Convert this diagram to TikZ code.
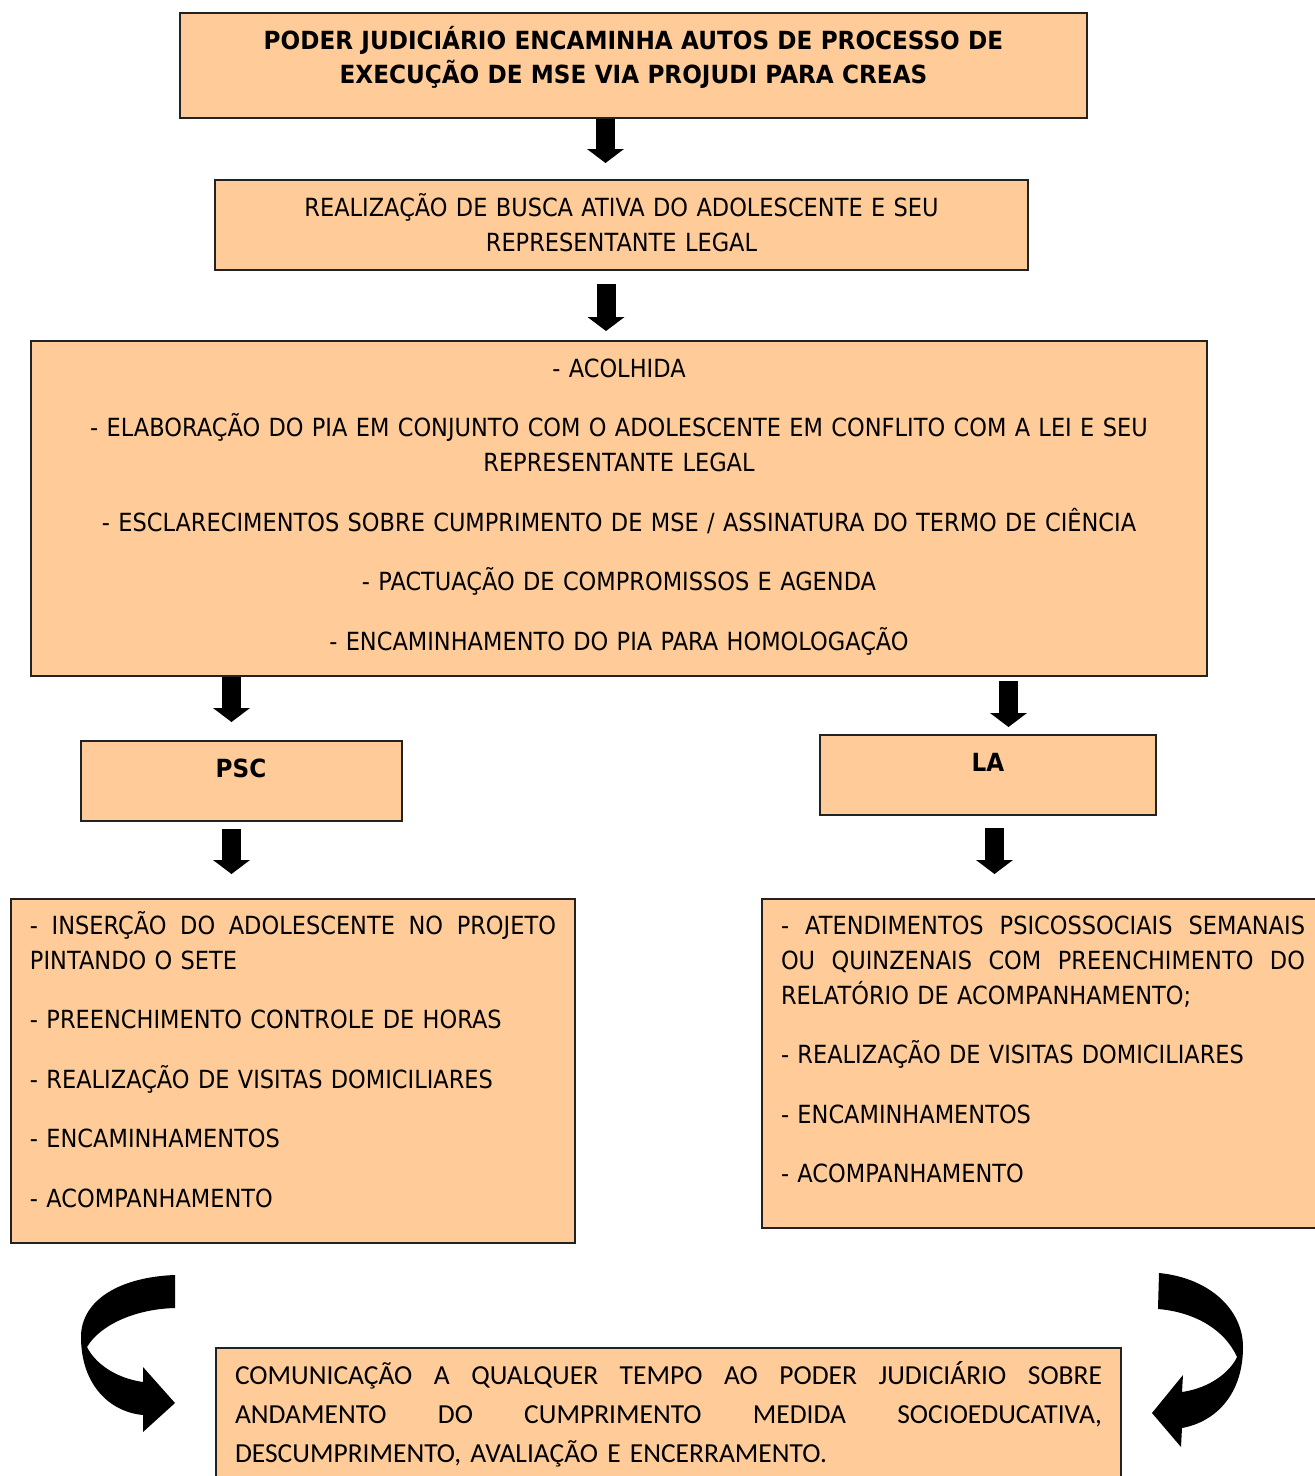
\documentclass[tikz,border=0pt]{standalone}
\usepackage{fontspec}
\usetikzlibrary{arrows.meta}
\newfontfamily\tahfont{DejaVu Sans}[FakeStretch=0.9]
\newfontfamily\tahbfont{DejaVu Sans}[FakeStretch=0.925]
\newfontfamily\calfont{Carlito}
\definecolor{peach}{HTML}{FFCC99}
\definecolor{edge}{HTML}{222222}
\newcommand\jline[2]{\makebox[#1][s]{\spaceskip=\fontdimen2\font plus 1fil\relax #2}}
\begin{document}
\begin{tikzpicture}[x=1pt,y=-1pt,
  box/.style={draw=edge,fill=peach,line width=1.6pt,inner sep=0pt},
  txt/.style={inner sep=0pt,anchor=north,font={\tahfont\fontsize{25}{35}\selectfont}},
  btxt/.style={inner sep=0pt,font={\tahbfont\bfseries\fontsize{25}{34}\selectfont}},
  fat/.style={line width=19pt,-{Triangle[width=37pt,length=14pt,line width=0pt]}},
  curvy/.style={fill=black}]
\path[use as bounding box] (0,0) rectangle (1315,1476);
\clip (0,0) rectangle (1315,1476);

% boxes
\node[box,minimum width=907,minimum height=105] (b1) at (633.5,65.5) {};
\node[box,minimum width=813,minimum height=90] (b2) at (621.5,225) {};
\node[box,minimum width=1176,minimum height=335] (b3) at (619,508.5) {};
\node[box,minimum width=321,minimum height=80] (psc) at (241.5,781) {};
\node[box,minimum width=336,minimum height=80] (la) at (988,775) {};
\node[box,minimum width=564,minimum height=344] (pscl) at (293,1071) {};
\node[box,minimum width=568,minimum height=329] (lal) at (1046,1063.5) {};
\node[box,minimum width=905,minimum height=152] (bot) at (668.5,1424) {};

% texts
\node[btxt,anchor=north,text width=900,align=center] (t1) at (633.5,25.3)
  {\strut PODER JUDICIÁRIO ENCAMINHA AUTOS DE PROCESSO DE\\ EXECUÇÃO DE MSE VIA PROJUDI PARA CREAS};
\node[txt,text width=800,align=center] (t2) at (621.5,191.6)
  {\strut REALIZAÇÃO DE BUSCA ATIVA DO ADOLESCENTE E SEU\\ REPRESENTANTE LEGAL};
\node[txt,text width=1170,align=center] (t3) at (619,352.6)
  {\strut - ACOLHIDA\\[24.5pt]
   - ELABORAÇÃO DO PIA EM CONJUNTO COM O ADOLESCENTE EM CONFLITO COM A LEI E SEU\\
   REPRESENTANTE LEGAL\\[24.5pt]
   - ESCLARECIMENTOS SOBRE CUMPRIMENTO DE MSE / ASSINATURA DO TERMO DE CIÊNCIA\\[24.5pt]
   - PACTUAÇÃO DE COMPROMISSOS E AGENDA\\[24.5pt]
   - ENCAMINHAMENTO DO PIA PARA HOMOLOGAÇÃO};
\node[btxt] (tpsc) at (241,768) {PSC};
\node[btxt] (tla) at (988,762) {LA};
\node[txt,text width=526,align=left] (tpscl) at (293,909.6)
  {\strut\jline{526pt}{- INSERÇÃO DO ADOLESCENTE NO PROJETO}\\
   PINTANDO O SETE\\[24.5pt]
   - PREENCHIMENTO CONTROLE DE HORAS\\[24.5pt]
   - REALIZAÇÃO DE VISITAS DOMICILIARES\\[24.5pt]
   - ENCAMINHAMENTOS\\[24.5pt]
   - ACOMPANHAMENTO};
\node[txt,text width=524,align=left] (tlal) at (1043,909.6)
  {\strut\jline{524pt}{- ATENDIMENTOS PSICOSSOCIAIS SEMANAIS}\\
   \jline{524pt}{OU QUINZENAIS COM PREENCHIMENTO DO}\\
   RELATÓRIO DE ACOMPANHAMENTO;\\[24.5pt]
   - REALIZAÇÃO DE VISITAS DOMICILIARES\\[24.5pt]
   - ENCAMINHAMENTOS\\[24.5pt]
   - ACOMPANHAMENTO};
\node[inner sep=0pt,anchor=north,text width=867,align=left,
  font={\calfont\fontsize{27.5}{39}\selectfont}] (tbot) at (668.5,1356.5)
  {\strut\jline{867pt}{COMUNICAÇÃO A QUALQUER TEMPO AO PODER JUDICIÁRIO SOBRE}\\
   \jline{867pt}{ANDAMENTO DO CUMPRIMENTO MEDIDA SOCIOEDUCATIVA,}\\
   DESCUMPRIMENTO, AVALIAÇÃO E ENCERRAMENTO.};

% block arrows
\coordinate (e1) at (605.5,163);
\coordinate (e2) at (606,331);
\coordinate (e3) at (231.5,722);
\coordinate (e4) at (1008.5,727);
\coordinate (e5) at (231.5,874);
\coordinate (e6) at (994.5,874);
\draw[fat] ([xshift=-28pt]b1.south) -- (e1);
\draw[fat] ([xshift=-15.5pt,yshift=-13pt]b2.south) -- (e2);
\draw[fat] ([xshift=-387.5pt]b3.south) -- (e3);
\draw[fat] ([xshift=389.5pt,yshift=-4pt]b3.south) -- (e4);
\draw[fat] ([xshift=-10pt,yshift=-7pt]psc.south) -- (e5);
\draw[fat] ([xshift=6.5pt,yshift=-12pt]la.south) -- (e6);

% curved arrows
\fill[curvy] (175,1275) .. controls (120,1277) and (81,1300) .. (81,1337)
  .. controls (81,1385) and (110,1412) .. (143,1415)
  -- (143,1432) -- (175,1403) -- (143,1367) -- (143,1382)
  .. controls (115,1378) and (95,1363) .. (87,1347)
  .. controls (100,1325) and (135,1309) .. (175,1308) -- cycle;
\fill[curvy] (1159,1273) .. controls (1210,1278) and (1243,1310) .. (1243,1347)
  .. controls (1243,1395) and (1215,1422) .. (1182,1428)
  -- (1181,1447) -- (1152,1413) -- (1183,1375) -- (1182,1392)
  .. controls (1210,1388) and (1230,1372) .. (1237,1357)
  .. controls (1225,1330) and (1195,1312) .. (1158,1309) -- cycle;
\end{tikzpicture}
\end{document}
